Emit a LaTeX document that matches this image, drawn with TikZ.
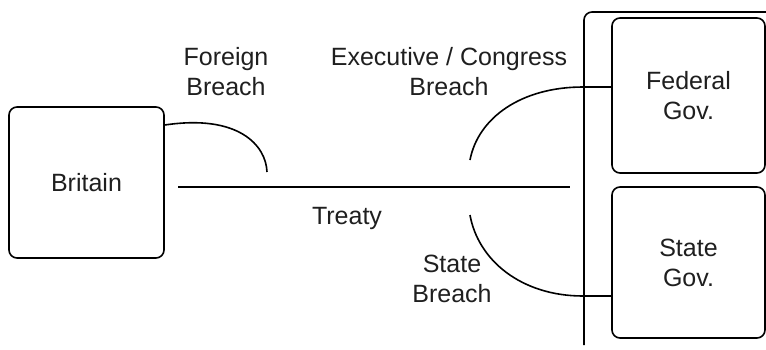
\documentclass[tikz,border=0pt]{standalone}
\usepackage{fontspec}
\setmainfont{Liberation Sans}
\begin{document}
\begin{tikzpicture}[x=1pt,y=-1pt,line width=1.6pt,
  box/.style={draw,rounded corners=8pt,line width=1.6pt},
  lbl/.style={font=\fontsize{25}{30}\selectfont,align=center,inner sep=0pt,text=black!88},
  conn/.style={line width=1.6pt}]
\useasboundingbox (0,0) rectangle (766,349);
% container
\coordinate (cbot) at (584,345);
\coordinate (ctop) at (766,12);
\draw[rounded corners=8pt] (cbot) -- (584,12) -- (ctop);
% boxes
\node[box,minimum width=155pt,minimum height=151pt] (britain) at (86.5,182.5) {};
\node[lbl] at (britain.center) {Britain};
\node[box,minimum width=153pt,minimum height=155pt] (federal) at (688.5,95.5) {};
\node[lbl] at (federal.center) {Federal\\Gov.};
\node[box,minimum width=153pt,minimum height=151pt] (state) at (688.5,262.5) {};
\node[lbl] at (state.center) {State\\Gov.};
% treaty line
\coordinate (tl) at (178,187);
\coordinate (tr) at (570,187);
\draw[conn] (tl) -- (tr);
\node[lbl] (treaty) at (347,218) {Treaty};
% foreign breach
\coordinate (fe) at (267,172);
\draw[conn] (britain.east |- 0,125) .. controls (238,114) and (266,145) .. (fe);
\node[lbl] (foreign) at (226,72) {Foreign\\Breach};
% executive breach
\coordinate (ee) at (470,160);
\draw[conn] (ee) .. controls (478,118) and (521,87) .. (583,87) -- (federal.west |- 0,87);
\node[lbl] (exec) at (449,72) {Executive / Congress\\Breach};
% state breach
\coordinate (se) at (470,215);
\draw[conn] (se) .. controls (478,260) and (521,296) .. (583,296) -- (state.west |- 0,296);
\node[lbl] (stb) at (452,279) {State\\Breach};
\end{tikzpicture}
\end{document}
